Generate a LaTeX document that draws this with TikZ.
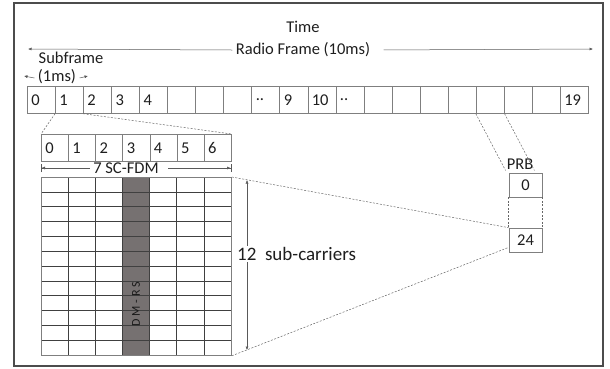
\documentclass[tikz,border=0pt]{standalone}
\usepackage{fontspec}
\setmainfont{Carlito}
\usetikzlibrary{arrows.meta,calc}
\definecolor{dmrs}{HTML}{767171}
\definecolor{cellline}{HTML}{7F7F7F}
\definecolor{gridline}{HTML}{404040}
\definecolor{txt}{HTML}{1E1E1E}
\def\dd{..}
\begin{document}
\begin{tikzpicture}[x=1pt,y=-1pt,
  >={Latex[length=3.5pt,width=3pt]},
  every node/.style={font=\fontsize{16.5}{19}\selectfont, text=txt},
  cell/.style={draw=cellline, line width=0.7pt, minimum height=27pt, inner xsep=4pt, inner ysep=0pt, align=left, anchor=north west},
  sfcell/.style={cell, minimum width=28.05pt, text width=20.05pt},
  slotcell/.style={cell, minimum width=27.14pt, text width=19.14pt},
  prbbox/.style={draw=cellline, line width=0.7pt, minimum width=33pt, minimum height=24pt, inner sep=0pt},
  dashconn/.style={draw=gray!80!black, line width=0.5pt, dash pattern=on 2pt off 1.5pt},
  dimarrow/.style={draw=gray!70!black, line width=0.5pt}]
\useasboundingbox (0,0) rectangle (610,368);
\draw[gray!60!black, line width=1.2pt] (14,3) rectangle (603,366);

% titles
\node (time) at (303,27) {Time};
\node (rf) at (303,50) {Radio Frame (10ms)};
\coordinate (rfL) at (28,49);
\coordinate (rfR) at (593,49);
\draw[dimarrow,->] (rf.west) -- (rfL);
\draw[dimarrow,->,shorten <=10pt] (rf.east) -- (rfR);

\node (sub) at (71,58) {Subframe};
\node (ms) at (57,77) {(1ms)};
\coordinate (msL) at (24,76);
\coordinate (msR) at (88,76);
\draw[dimarrow,->] ([yshift=-1pt]ms.west) -- (msL);
\draw[dimarrow,->] ([yshift=-1pt]ms.east) -- (msR);

% subframe row
\foreach \i/\t in {0/0,1/1,2/2,3/3,4/4,5/,6/,7/,8/\dd,9/9,10/10,11/\dd,12/,13/,14/,15/,16/,17/,18/,19/19}
  \node[sfcell] (sf\i) at ({27+28.05*\i},86) {\t};

% slot row
\foreach \i in {0,...,6}
  \node[slotcell] (sl\i) at ({41+27.14*\i},134) {\i};

\node (scf) at (126,168) {7 SC-FDM};
\coordinate (scL) at (41,168);
\coordinate (scR) at (231,168);
\draw[dimarrow,-{Latex[length=3.5pt,width=3pt]Bar[width=8pt]}] (scf.west) -- (scL);
\draw[dimarrow,-{Latex[length=3.5pt,width=3pt]Bar[width=8pt]},shorten <=6pt] (scf.east) -- (scR);

% resource grid
\fill[dmrs] ({41+3*190/7},177) rectangle ({41+4*190/7},355);
\foreach \j in {1,...,11}
  \draw[gridline, line width=0.6pt] (41,{177+\j*178/12}) -- (231,{177+\j*178/12});
\foreach \i in {1,...,6}
  \draw[gridline, line width=0.6pt] ({41+\i*190/7},177) -- ({41+\i*190/7},355);
\node[draw=cellline, line width=0.8pt, minimum width=190pt, minimum height=178pt, anchor=north west, inner sep=0pt] (grid) at (41,177) {};
\node[rotate=90, font=\fontsize{12}{14}\selectfont, text=black!90] (dm) at (136,304) {D M - R S};

% 12 sub-carriers
\coordinate (scT) at (247,180);
\coordinate (scB) at (247,350);
\draw[dimarrow,<->] (scB) -- (scT);
\node[fill=white, anchor=west, font=\fontsize{19}{22}\selectfont, inner sep=1pt] (subc) at (236,254) {12\ \ sub-carriers};

% PRB
\node[prbbox] (p0) at (525.5,185) {0};
\node[prbbox] (p24) at (525.5,240) {24};
\draw[dashconn] (p0.south west) -- (p24.north west);
\draw[dashconn] (p0.south east) -- (p24.north east);
\node[inner sep=1pt] (prbl) at (520,164) {PRB};

% dashed connectors
\draw[dashconn] (sf16.south west) -- (prbl.south west);
\draw[dashconn] (sf16.south east) -- (prbl.south east);
\draw[dashconn] (sf1.south west) -- (sl0.north west);
\draw[dashconn] (sf2.south west) -- (sl6.north east);
\draw[dashconn] (grid.north east) -- (p24.north west);
\draw[dashconn] (grid.south east) -- ($(p24.south west)+(0,-5)$);
\end{tikzpicture}
\end{document}
